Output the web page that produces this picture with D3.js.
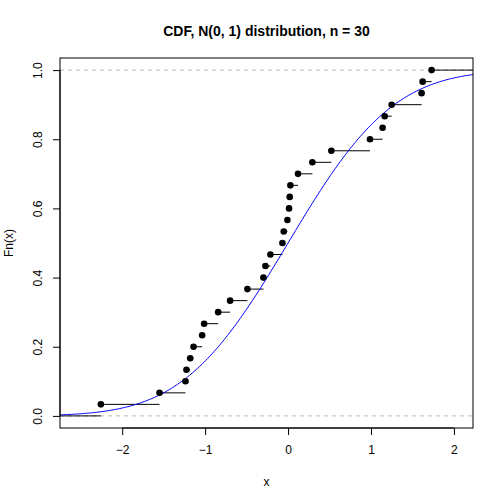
<!DOCTYPE html>
<html><head><meta charset="utf-8">
<script src="https://cdn.jsdelivr.net/npm/d3@7"></script>
<style>body{margin:0;background:#fff}text{font-family:"Liberation Sans",Arial,sans-serif}</style>
</head><body><div id="chart"></div>
<script>
// sorted sample
var xs = [-2.257,-1.55,-1.237,-1.225,-1.18,-1.14,-1.036,-1.012,-0.843,-0.699,
          -0.49,-0.297,-0.273,-0.213,-0.068,-0.052,-0.008,0.012,0.02,0.028,
          0.12,0.293,0.522,0.988,1.14,1.165,1.249,1.61,1.623,1.731];
var xTicks = [-2,-1,0,1,2];
var yTicks = [0,0.2,0.4,0.6,0.8,1.0];

var W = 504, H = 504, L = 60, R = 473, T = 58, B = 428;
var n = xs.length;
var svg = d3.select("#chart").append("svg").attr("width", W).attr("height", H);
var x = d3.scaleLinear().domain([-2.75, 2.23]).range([L, R]);
var y = d3.scaleLinear().domain([-0.035, 1.035]).range([B, T]);

// normal cdf (Abramowitz-Stegun erf)
function pnorm(z) {
  var t = Math.abs(z) / Math.SQRT2, p = 1 / (1 + 0.3275911 * t);
  var e = 1 - (((((1.061405429 * p - 1.453152027) * p) + 1.421413741) * p - 0.284496736) * p + 0.254829592) * p * Math.exp(-t * t);
  return z >= 0 ? 0.5 + e / 2 : 0.5 - e / 2;
}

[0, 1].forEach(function(v){
  svg.append("line").attr("x1", L).attr("x2", R).attr("y1", y(v)).attr("y2", y(v))
    .attr("stroke", "#bbb").attr("stroke-dasharray", "4,4");
});

var clip = svg.append("clipPath").attr("id", "c").append("rect").attr("x", L).attr("y", T).attr("width", R-L).attr("height", B-T);
var g = svg.append("g").attr("clip-path", "url(#c)");

var steps = [[-3, xs[0], 0]];
xs.forEach(function(d, i){ steps.push([d, i < n-1 ? xs[i+1] : 3, (i+1)/n]); });
g.selectAll(".seg").data(steps).enter().append("line")
  .attr("x1", function(d){ return x(d[0]); }).attr("x2", function(d){ return x(d[1]); })
  .attr("y1", function(d){ return y(d[2]); }).attr("y2", function(d){ return y(d[2]); })
  .attr("stroke", "#000").attr("stroke-width", 1);

var grid = d3.range(-2.75, 2.24, 0.02);
g.append("path").datum(grid).attr("fill", "none").attr("stroke", "#0000ff").attr("stroke-width", 1)
  .attr("d", d3.line().x(function(d){ return x(d); }).y(function(d){ return y(pnorm(d)); }));

g.selectAll("circle").data(xs).enter().append("circle")
  .attr("cx", function(d){ return x(d); }).attr("cy", function(d, i){ return y((i+1)/n); })
  .attr("r", 3.3).attr("fill", "#000");

svg.append("rect").attr("x", L).attr("y", T).attr("width", R-L).attr("height", B-T)
  .attr("fill", "none").attr("stroke", "#000");

var xa = svg.append("g").attr("transform", "translate(0," + B + ")")
  .call(d3.axisBottom(x).tickValues(xTicks).tickFormat(d3.format("d")).tickSize(7).tickSizeOuter(0));
var ya = svg.append("g").attr("transform", "translate(" + L + ",0)")
  .call(d3.axisLeft(y).tickValues(yTicks).tickFormat(d3.format(".1f")).tickSize(7).tickSizeOuter(0));
[xa, ya].forEach(function(a){
  a.select(".domain").remove();
  a.selectAll("text").attr("font-size", 12).attr("fill", "#000").attr("font-family", "Liberation Sans, Arial, sans-serif");
});
xa.selectAll("text").attr("dy", "1.3em");
xa.append("line").attr("x1", x(-2)).attr("x2", x(2)).attr("stroke", "#000");
ya.append("line").attr("y1", y(0)).attr("y2", y(1)).attr("stroke", "#000");
ya.selectAll(".tick text").attr("transform", "rotate(-90)").attr("x", 0).attr("dy", "-0.9em").attr("y", -7).attr("text-anchor", "middle");

svg.append("text").attr("x", (L+R)/2).attr("y", 36).attr("text-anchor", "middle")
  .attr("font-size", 14).attr("font-weight", "bold").text("CDF, N(0, 1) distribution, n = 30");
svg.append("text").attr("x", (L+R)/2).attr("y", 486).attr("text-anchor", "middle").attr("font-size", 12).text("x");
svg.append("text").attr("transform", "translate(13," + (T+B)/2 + ") rotate(-90)").attr("text-anchor", "middle")
  .attr("font-size", 12).text("Fn(x)");
</script></body></html>
